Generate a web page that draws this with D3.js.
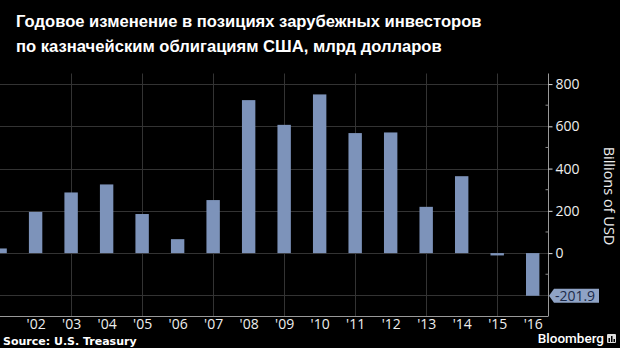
<!DOCTYPE html>
<html>
<head>
<meta charset="utf-8">
<script src="https://cdn.jsdelivr.net/npm/d3@7"></script>
<style>
  html, body { margin: 0; padding: 0; background: #000; }
  svg { display: block; }
</style>
</head>
<body>
<svg id="chart" width="620" height="348"></svg>
<script>
// Annual change in foreign holdings of US Treasuries, billions of USD
const years = [2001, 2002, 2003, 2004, 2005, 2006, 2007, 2008, 2009, 2010, 2011, 2012, 2013, 2014, 2015, 2016];
const values = [22, 195, 287, 325, 185, 66, 251, 724, 607, 751, 568, 571, 219, 364, -11, -201.9];
const yTicks = [0, 200, 400, 600, 800];
const yMinorTicks = [-100, 100, 300, 500, 700];
const yGrid = [-200, 0, 200, 400, 600, 800];
const xGridYears = [2003, 2005, 2007, 2009, 2011, 2013, 2015];
const xTickYears = [2002, 2003, 2004, 2005, 2006, 2007, 2008, 2009, 2010, 2011, 2012, 2013, 2014, 2015, 2016];
const titleLines = [
  "Годовое изменение в позициях зарубежных инвесторов",
  "по казначейским облигациям США, млрд долларов"
];
const callout = { year: 2016, value: -201.9, label: "-201.9" };

const svg = d3.select("#chart");
const plot = { left: 0, right: 548, top: 73.5, bottom: 316.5 };

const x = d3.scaleLinear().domain([2001, 2016]).range([0.1, 532.7]);
const y = d3.scaleLinear().domain([-300, 850]).range([plot.bottom, plot.top]);
const barW = 13.4;

// Title
svg.append("g").selectAll("text").data(titleLines).join("text")
  .attr("x", 16)
  .attr("y", (d, i) => 27 + i * 25)
  .attr("fill", "#fff")
  .attr("font-family", "Liberation Sans, Arial, sans-serif")
  .attr("font-weight", "bold")
  .attr("font-size", 16.6)
  .text(d => d);

// Gridlines
const grid = svg.append("g").attr("stroke", "#333").attr("stroke-width", 1);
grid.selectAll("line.h").data(yGrid).join("line")
  .attr("class", "h")
  .attr("x1", plot.left).attr("x2", plot.right)
  .attr("y1", d => Math.round(y(d)) + 0.5).attr("y2", d => Math.round(y(d)) + 0.5);
grid.selectAll("line.v").data(xGridYears).join("line")
  .attr("class", "v")
  .attr("x1", d => Math.round(x(d)) + 0.5).attr("x2", d => Math.round(x(d)) + 0.5)
  .attr("y1", plot.top).attr("y2", plot.bottom);

// Bars
svg.append("g").selectAll("rect").data(years.map((yr, i) => ({ yr, v: values[i] }))).join("rect")
  .attr("x", d => x(d.yr) - barW / 2)
  .attr("width", barW)
  .attr("y", d => y(Math.max(0, d.v)))
  .attr("height", d => Math.max(1.5, Math.abs(y(d.v) - y(0))))
  .attr("fill", "#7d93ba");

// Right axis
const axisG = svg.append("g").attr("transform", `translate(${plot.right + 0.5},0)`);
axisG.call(d3.axisRight(y).tickValues(yTicks).tickSize(4).tickPadding(3))
  .call(g => g.select(".domain").attr("stroke", "#999").attr("d", `M0,${plot.top}V${plot.bottom}`))
  .call(g => g.selectAll(".tick line").attr("stroke", "#ddd"))
  .call(g => g.selectAll(".tick text")
    .attr("fill", "#eee")
    .attr("font-family", "Open Sans, Noto Sans, sans-serif")
    .attr("font-size", 14));
axisG.selectAll("line.minor").data(yMinorTicks).join("line")
  .attr("class", "minor")
  .attr("x1", -3).attr("x2", 0)
  .attr("y1", d => y(d)).attr("y2", d => y(d))
  .attr("stroke", "#888");

// Bottom axis
const xAxisG = svg.append("g").attr("transform", `translate(0,${plot.bottom})`);
xAxisG.call(d3.axisBottom(x).tickValues(xTickYears).tickSize(0).tickPadding(3)
    .tickFormat(d => "'" + String(d).slice(2)))
  .call(g => g.select(".domain").attr("stroke", "#999").attr("d", `M${plot.left},0H${plot.right}`))
  .call(g => g.selectAll(".tick text")
    .attr("fill", "#eee")
    .attr("font-family", "Open Sans, Noto Sans, sans-serif")
    .attr("font-size", 14));

// Axis title
svg.append("text")
  .attr("transform", `translate(604,196) rotate(90)`)
  .attr("text-anchor", "middle")
  .attr("fill", "#eee")
  .attr("font-family", "Open Sans, Noto Sans, sans-serif")
  .attr("font-size", 14.5)
  .text("Billions of USD");

// Value callout on the axis
const cy = y(callout.value);
const cg = svg.append("g");
cg.append("path")
  .attr("d", `M${plot.right + 1},${cy} L${plot.right + 6},${cy - 7} H599 V${cy + 7} H${plot.right + 6} Z`)
  .attr("fill", "#8fa3c5");
cg.append("text")
  .attr("x", 575).attr("y", cy + 5)
  .attr("text-anchor", "middle")
  .attr("fill", "#1c2b4a")
  .attr("font-family", "Open Sans, Noto Sans, sans-serif")
  .attr("font-size", 14)
  .text(callout.label);

// Footer
svg.append("text")
  .attr("x", 3).attr("y", 345)
  .attr("fill", "#fff")
  .attr("font-family", "DejaVu Sans, sans-serif")
  .attr("font-weight", "bold")
  .attr("font-size", 11)
  .text("Source: U.S. Treasury");

svg.append("text")
  .attr("x", 604).attr("y", 343)
  .attr("text-anchor", "end")
  .attr("fill", "#fff")
  .attr("font-family", "Roboto, sans-serif")
  .attr("font-weight", 500)
  .attr("font-size", 13.5)
  .text("Bloomberg");

const icon = svg.append("g").attr("transform", "translate(607,334)");
icon.append("rect").attr("width", 9).attr("height", 9).attr("rx", 1).attr("fill", "#ddd");
icon.selectAll("rect.b").data([[1.5, 4, 1.5], [4, 2, 1.5], [6.5, 5, 1.5]]).join("rect")
  .attr("class", "b")
  .attr("x", d => d[0]).attr("y", d => d[1]).attr("width", d => d[2]).attr("height", d => 8 - d[1])
  .attr("fill", "#000");
</script>
</body>
</html>
